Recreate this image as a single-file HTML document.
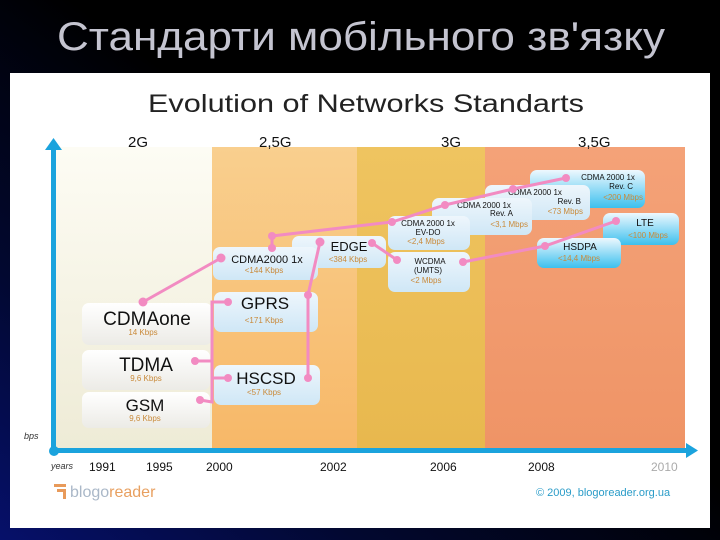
<!DOCTYPE html>
<html><head><meta charset="utf-8">
<style>
html,body{margin:0;padding:0;background:#000;}
#page{position:relative;width:720px;height:540px;overflow:hidden;background:linear-gradient(to top right,#06106a 0%,#020830 25%,#000 55%);}
svg{position:absolute;left:0;top:0;}
text{font-family:"Liberation Sans","DejaVu Sans",sans-serif;}
</style></head>
<body>
<div id="page">
<svg width="720" height="540" viewBox="0 0 720 540">
<defs>
<linearGradient id="g2" x1="0" y1="0" x2="0" y2="1"><stop offset="0" stop-color="#fdfcf4"/><stop offset="1" stop-color="#eeebd6"/></linearGradient>
<linearGradient id="g25" x1="0" y1="0" x2="0" y2="1"><stop offset="0" stop-color="#f9cf8e"/><stop offset="1" stop-color="#f7b868"/></linearGradient>
<linearGradient id="g3" x1="0" y1="0" x2="0" y2="1"><stop offset="0" stop-color="#efc460"/><stop offset="1" stop-color="#e8b84e"/></linearGradient>
<linearGradient id="g35" x1="0" y1="0" x2="0" y2="1"><stop offset="0" stop-color="#f4a278"/><stop offset="1" stop-color="#ef9466"/></linearGradient>
<linearGradient id="bw" x1="0" y1="0" x2="0" y2="1"><stop offset="0" stop-color="#ffffff"/><stop offset="1" stop-color="#ecebe6"/></linearGradient>
<linearGradient id="bb" x1="0" y1="0" x2="0" y2="1"><stop offset="0" stop-color="#eef6fc"/><stop offset="1" stop-color="#cfe7f6"/></linearGradient>
<linearGradient id="bc" x1="0" y1="0" x2="0" y2="1"><stop offset="0" stop-color="#eef8fe"/><stop offset="1" stop-color="#3cc0ee"/></linearGradient>
</defs>

<text x="57" y="50" font-size="40" fill="#c4c4d0" textLength="608" lengthAdjust="spacingAndGlyphs">Стандарти мобільного зв'язку</text>

<rect x="10" y="73" width="700" height="455" fill="#fff"/>
<text x="148" y="112" font-size="25" fill="#222" textLength="436" lengthAdjust="spacingAndGlyphs">Evolution of Networks Standarts</text>

<g>
<rect x="56" y="147" width="156" height="301" fill="url(#g2)"/>
<rect x="212" y="147" width="145" height="301" fill="url(#g25)"/>
<rect x="357" y="147" width="128" height="301" fill="url(#g3)"/>
<rect x="485" y="147" width="200" height="301" fill="url(#g35)"/>
</g>
<g font-size="15" fill="#111">
<text x="128" y="147">2G</text>
<text x="259" y="147">2,5G</text>
<text x="441" y="147">3G</text>
<text x="578" y="147">3,5G</text>
</g>

<g>
<rect x="51" y="148" width="5" height="304" fill="#1ba3dd"/>
<polygon points="45,150 53.5,138 62,150" fill="#1ba3dd"/>
<rect x="51" y="448" width="637" height="5" fill="#1ba3dd"/>
<polygon points="686,443 698,450.5 686,458" fill="#1ba3dd"/>
<circle cx="54" cy="451" r="5" fill="#1ba3dd"/>
<text x="24" y="439" font-size="9" font-style="italic" fill="#333">bps</text>
<text x="51" y="469" font-size="9" font-style="italic" fill="#333">years</text>
</g>
<g font-size="12" fill="#111">
<text x="89" y="471">1991</text><text x="146" y="471">1995</text><text x="206" y="471">2000</text>
<text x="320" y="471">2002</text><text x="430" y="471">2006</text><text x="528" y="471">2008</text>
<text x="651" y="471" fill="#aaa">2010</text>
</g>

<g>
<g><rect x="82" y="303" width="130" height="42" rx="7" fill="url(#bw)"/>
<text x="147" y="325" font-size="19" text-anchor="middle" fill="#111">CDMAone</text><text x="143" y="335" font-size="8" text-anchor="middle" fill="#c98a3a">14 Kbps</text></g>
<g><rect x="82" y="350" width="128" height="40" rx="7" fill="url(#bw)"/>
<text x="146" y="371" font-size="19" text-anchor="middle" fill="#111">TDMA</text><text x="146" y="381" font-size="8" text-anchor="middle" fill="#c98a3a">9,6 Kbps</text></g>
<g><rect x="82" y="392" width="128" height="36" rx="7" fill="url(#bw)"/>
<text x="145" y="411" font-size="17" text-anchor="middle" fill="#111">GSM</text><text x="145" y="421" font-size="8" text-anchor="middle" fill="#c98a3a">9,6 Kbps</text></g>
<g><rect x="214" y="292" width="104" height="40" rx="7" fill="url(#bb)"/>
<text x="265" y="309" font-size="17" text-anchor="middle" fill="#111">GPRS</text><text x="264" y="323" font-size="8" text-anchor="middle" fill="#c98a3a">&lt;171 Kbps</text></g>
<g><rect x="214" y="365" width="106" height="40" rx="7" fill="url(#bb)"/>
<text x="266" y="384" font-size="17" text-anchor="middle" fill="#111">HSCSD</text><text x="264" y="395" font-size="8" text-anchor="middle" fill="#c98a3a">&lt;57 Kbps</text></g>
<g><rect x="292" y="236" width="94" height="32" rx="7" fill="url(#bb)"/>
<text x="349" y="251" font-size="13" text-anchor="middle" fill="#111">EDGE</text><text x="348" y="262" font-size="8" text-anchor="middle" fill="#c98a3a">&lt;384 Kbps</text></g>
<g><rect x="213" y="247" width="105" height="33" rx="7" fill="url(#bb)"/>
<text x="267" y="263" font-size="11" text-anchor="middle" fill="#111">CDMA2000 1x</text><text x="264" y="273" font-size="8" text-anchor="middle" fill="#c98a3a">&lt;144 Kbps</text></g>
<g><rect x="530" y="170" width="115" height="38" rx="7" fill="url(#bc)"/>
<text x="608" y="180" font-size="8" text-anchor="middle" fill="#111">CDMA 2000 1x</text><text x="633" y="189" font-size="8" text-anchor="end" fill="#111">Rev. C</text><text x="643" y="200" font-size="8" text-anchor="end" fill="#c98a3a">&lt;200 Mbps</text></g>
<g><rect x="485" y="185" width="105" height="35" rx="7" fill="url(#bb)"/>
<text x="535" y="195" font-size="8" text-anchor="middle" fill="#111">CDMA 2000 1x</text><text x="581" y="204" font-size="8" text-anchor="end" fill="#111">Rev. B</text><text x="583" y="214" font-size="8" text-anchor="end" fill="#c98a3a">&lt;73 Mbps</text></g>
<g><rect x="432" y="198" width="100" height="37" rx="7" fill="url(#bb)"/>
<text x="484" y="208" font-size="8" text-anchor="middle" fill="#111">CDMA 2000 1x</text><text x="513" y="216" font-size="8" text-anchor="end" fill="#111">Rev. A</text><text x="528" y="227" font-size="8" text-anchor="end" fill="#c98a3a">&lt;3,1 Mbps</text></g>
<g><rect x="388" y="216" width="82" height="34" rx="7" fill="url(#bb)"/>
<text x="428" y="226" font-size="8" text-anchor="middle" fill="#111">CDMA 2000 1x</text><text x="428" y="235" font-size="8" text-anchor="middle" fill="#111">EV-DO</text><text x="426" y="244" font-size="8" text-anchor="middle" fill="#c98a3a">&lt;2,4 Mbps</text></g>
<g><rect x="388" y="252" width="82" height="40" rx="7" fill="url(#bb)"/>
<text x="430" y="264" font-size="8" text-anchor="middle" fill="#111">WCDMA</text><text x="428" y="273" font-size="8" text-anchor="middle" fill="#111">(UMTS)</text><text x="426" y="283" font-size="8" text-anchor="middle" fill="#c98a3a">&lt;2 Mbps</text></g>
<g><rect x="603" y="213" width="76" height="32" rx="7" fill="url(#bc)"/>
<text x="645" y="226" font-size="10" text-anchor="middle" fill="#111">LTE</text><text x="648" y="238" font-size="8" text-anchor="middle" fill="#c98a3a">&lt;100 Mbps</text></g>
<g><rect x="537" y="238" width="84" height="30" rx="7" fill="url(#bc)"/>
<text x="580" y="250" font-size="10" text-anchor="middle" fill="#111">HSDPA</text><text x="579" y="261" font-size="8" text-anchor="middle" fill="#c98a3a">&lt;14,4 Mbps</text></g>
</g>

<g stroke="#f28bc2" stroke-width="3" fill="none">
<polyline points="143,302 221,258"/>
<polyline points="272,248 272,236 392,222 445,205 513,189 566,178"/>
<polyline points="320,242 308,295 308,378"/>
<polyline points="372,243 397,260"/>
<polyline points="463,262 545,246 616,221"/>
<polyline points="228,302 212,302 212,402 200,400"/>
<polyline points="195,361 212,361"/>
<polyline points="212,378 228,378"/>
</g>
<g fill="#f28bc2">
<circle cx="143" cy="302" r="4.5"/><circle cx="221" cy="258" r="4.5"/><circle cx="272" cy="236" r="4"/><circle cx="272" cy="248" r="4"/>
<circle cx="392" cy="222" r="4"/><circle cx="445" cy="205" r="4"/><circle cx="513" cy="189" r="4"/><circle cx="566" cy="178" r="4"/>
<circle cx="320" cy="242" r="4.5"/><circle cx="308" cy="295" r="4"/><circle cx="308" cy="378" r="4"/>
<circle cx="372" cy="243" r="4"/><circle cx="397" cy="260" r="4"/><circle cx="463" cy="262" r="4"/><circle cx="545" cy="246" r="4"/><circle cx="616" cy="221" r="4"/>
<circle cx="228" cy="302" r="4"/><circle cx="228" cy="378" r="4"/><circle cx="195" cy="361" r="4"/><circle cx="200" cy="400" r="4"/>
</g>

<g>
<rect x="54" y="484" width="12" height="3" fill="#e89a5a"/><rect x="57" y="489" width="9" height="3" fill="#e89a5a"/><rect x="63" y="489" width="3" height="10" fill="#e89a5a"/>
<text x="70" y="497" font-size="16" fill="#aab8c8">blogo<tspan fill="#e8a060">reader</tspan></text>
</g>
<text x="536" y="496" font-size="11" fill="#2a9cc8">© 2009, blogoreader.org.ua</text>
</svg>
</div>
</body></html>
